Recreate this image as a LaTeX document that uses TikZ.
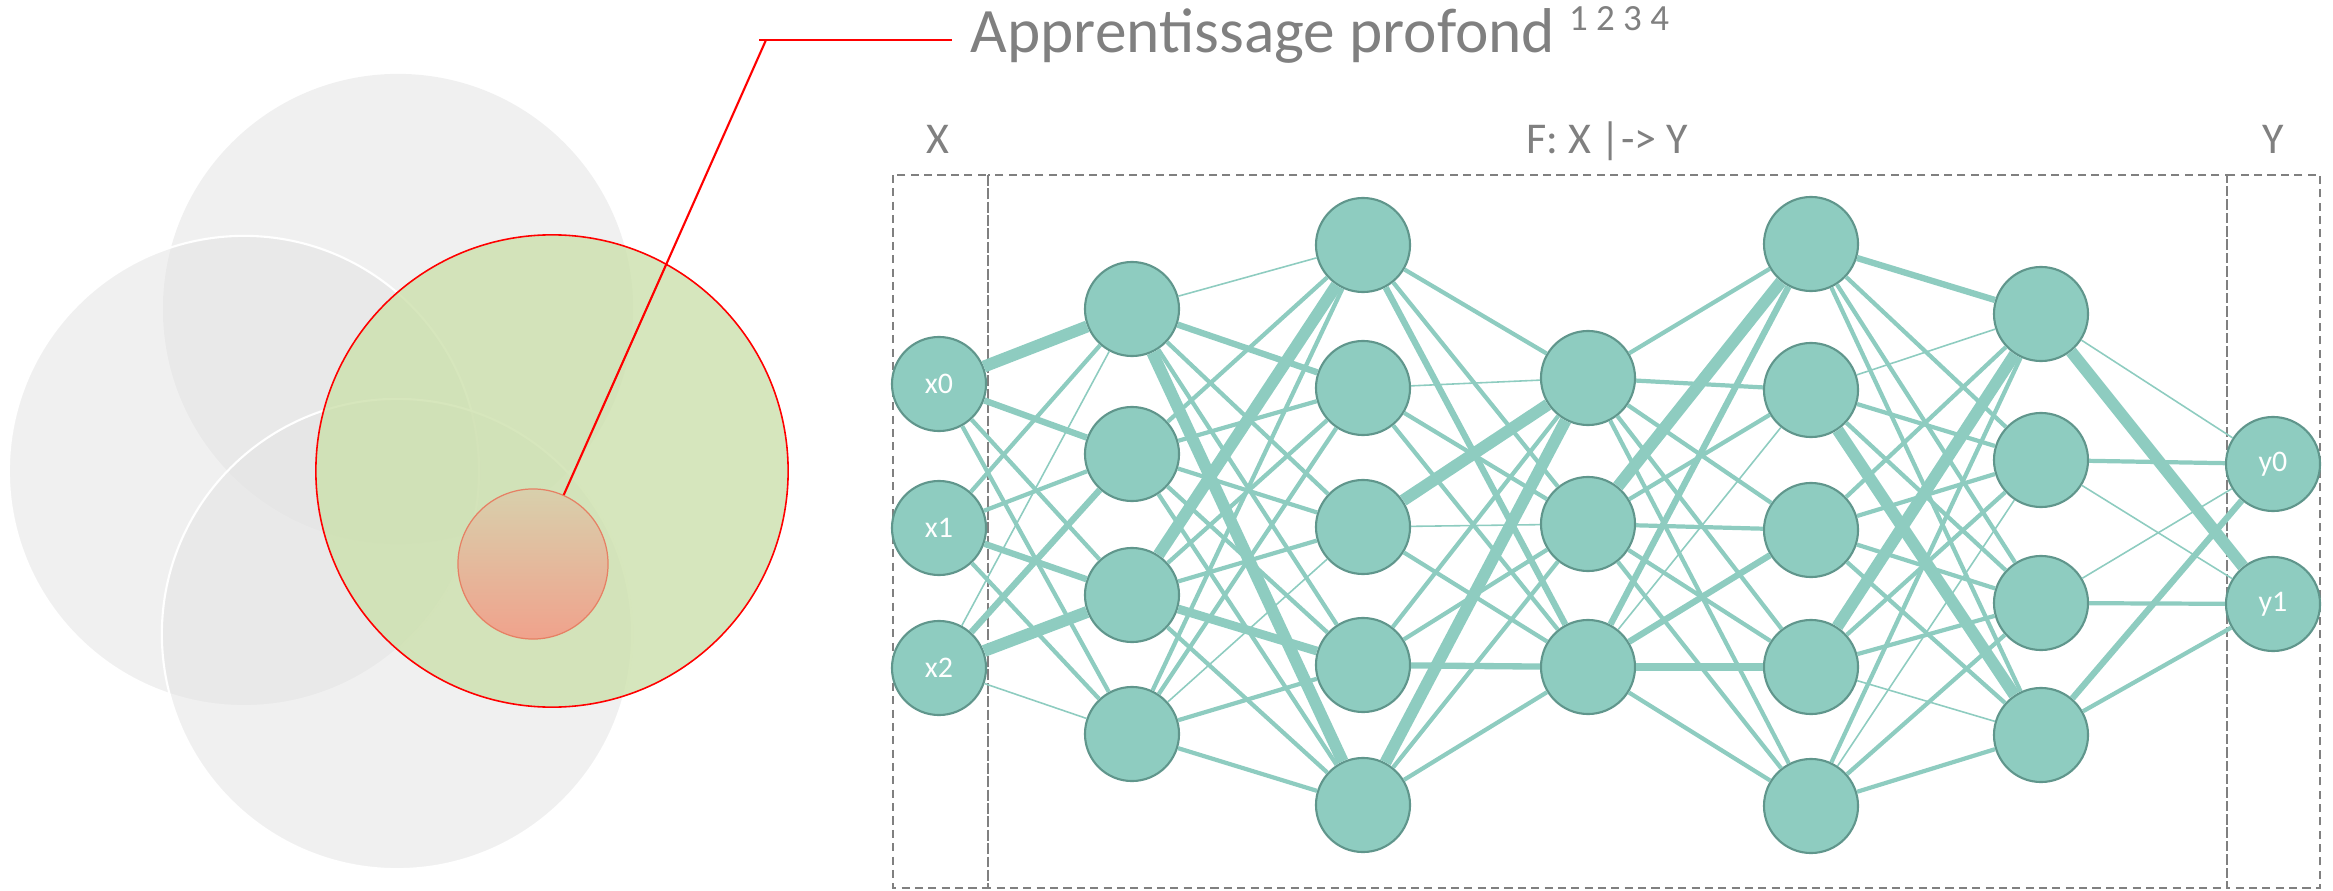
\documentclass[tikz,border=0pt]{standalone}
\usepackage{fontspec}
\setmainfont{Carlito}
\definecolor{nnfill}{RGB}{142,204,192}
\definecolor{nnedge}{RGB}{96,150,140}
\definecolor{textgray}{RGB}{128,128,128}
\definecolor{softgray}{RGB}{226,226,226}
\definecolor{leafgreen}{RGB}{204,224,172}
\definecolor{salmonedge}{RGB}{230,128,100}
\begin{document}
\begin{tikzpicture}[x=0.01cm, y=-0.01cm]
            \tikzstyle{every node}+=[inner sep=0pt]
            \tikzstyle{neuron}=[circle, minimum size=0.94cm, fill=nnfill, draw=nnedge, line width=0.6pt, text=white, font=\fontsize{8.5}{10}\selectfont]
            \tikzstyle{lbl}=[anchor=base, text=textgray, font=\fontsize{12.5}{15}\selectfont]
            \tikzstyle{dashbox}=[textgray, line width=0.5pt, dash pattern=on 2.3pt off 1.5pt]
            \tikzstyle{wthin}=[nnfill, line width=0.45pt]
            \tikzstyle{wnorm}=[nnfill, line width=1.2pt]
            \tikzstyle{wmid}=[nnfill, line width=1.8pt]
            \tikzstyle{wthick}=[nnfill, line width=2.5pt]
            \tikzstyle{wheavy}=[nnfill, line width=3.4pt]
                \useasboundingbox (0,0) rectangle (2333,891);
                % left: the circles
                \draw [fill=softgray, fill opacity=0.5, draw=none] (398,309) circle (2.35cm);
                \draw [fill=softgray, fill opacity=0.5, draw=white, line width=0.6pt] (244,471) circle (2.35cm);
                \draw [fill=softgray, fill opacity=0.5, draw=white, line width=0.6pt] (397,634) circle (2.35cm);
                \draw [fill=leafgreen, fill opacity=0.8, draw=red, line width=0.45pt] (552,471) circle (2.36cm);
                \node [circle, minimum size=1.5cm, draw=salmonedge, line width=0.35pt, top color={rgb,255:red,216;green,208;blue,172}, middle color={rgb,255:red,236;green,176;blue,156}, bottom color={rgb,255:red,240;green,162;blue,140}] (dl) at (533,564) {};
                \coordinate (elbow) at (766,40);
                \coordinate (hookstart) at (759,40);
                \coordinate (lineend) at (952,40);
                \draw [red, line width=0.6pt] (dl) -- (elbow);
                \draw [red, line width=0.6pt] (hookstart) -- (lineend);
                \node [anchor=base west, text=textgray, font=\fontsize{18}{22}\selectfont] (title) at (970,53) {Apprentissage profond\hspace{4pt}\raisebox{6.5pt}{\fontsize{10.5}{13}\selectfont 1 2 3 4}};
                % right: the network
                \draw [dashbox] (893,175) rectangle (988,888);
                \draw [dashbox] (988,175) rectangle (2227,888);
                \draw [dashbox] (2227,175) rectangle (2320,888);
                \node [lbl] (xlabel) at (938,153) {X};
                \node [lbl] (flabel) at (1607,153) {F: X |-> Y};
                \node [lbl] (ylabel) at (2273,153) {Y};
                \node [neuron] (x0) at (939,384) {x0};
                \node [neuron] (x1) at (939,528) {x1};
                \node [neuron] (x2) at (939,668) {x2};
                \node [neuron] (h1a) at (1132,309) {};
                \node [neuron] (h1b) at (1132,454) {};
                \node [neuron] (h1c) at (1132,595) {};
                \node [neuron] (h1d) at (1132,734) {};
                \node [neuron] (h2a) at (1363,245) {};
                \node [neuron] (h2b) at (1363,388) {};
                \node [neuron] (h2c) at (1363,527) {};
                \node [neuron] (h2d) at (1363,665) {};
                \node [neuron] (h2e) at (1363,805) {};
                \node [neuron] (h3a) at (1588,378) {};
                \node [neuron] (h3b) at (1588,524) {};
                \node [neuron] (h3c) at (1588,667) {};
                \node [neuron] (h4a) at (1811,244) {};
                \node [neuron] (h4b) at (1811,390) {};
                \node [neuron] (h4c) at (1811,530) {};
                \node [neuron] (h4d) at (1811,667) {};
                \node [neuron] (h4e) at (1811,806) {};
                \node [neuron] (h5a) at (2041,314) {};
                \node [neuron] (h5b) at (2041,460) {};
                \node [neuron] (h5c) at (2041,603) {};
                \node [neuron] (h5d) at (2041,735) {};
                \node [neuron] (y0) at (2273,464) {y0};
                \node [neuron] (y1) at (2273,604) {y1};
                % x -> h1
                \draw [wheavy] (x0) -- (h1a);
                \draw [wmid] (x0) -- (h1b);
                \draw [wnorm] (x0) -- (h1c);
                \draw [wnorm] (x0) -- (h1d);
                \draw [wnorm] (x1) -- (h1a);
                \draw [wnorm] (x1) -- (h1b);
                \draw [wmid] (x1) -- (h1c);
                \draw [wnorm] (x1) -- (h1d);
                \draw [wthin] (x2) -- (h1a);
                \draw [wmid] (x2) -- (h1b);
                \draw [wheavy] (x2) -- (h1c);
                \draw [wthin] (x2) -- (h1d);
                % h1 -> h2
                \draw [wthin] (h1a) -- (h2a);
                \draw [wmid] (h1a) -- (h2b);
                \draw [wnorm] (h1a) -- (h2c);
                \draw [wnorm] (h1a) -- (h2d);
                \draw [wheavy] (h1a) -- (h2e);
                \draw [wnorm] (h1b) -- (h2a);
                \draw [wnorm] (h1b) -- (h2b);
                \draw [wnorm] (h1b) -- (h2c);
                \draw [wnorm] (h1b) -- (h2d);
                \draw [wnorm] (h1b) -- (h2e);
                \draw [wheavy] (h1c) -- (h2a);
                \draw [wnorm] (h1c) -- (h2b);
                \draw [wnorm] (h1c) -- (h2c);
                \draw [wthick] (h1c) -- (h2d);
                \draw [wnorm] (h1c) -- (h2e);
                \draw [wnorm] (h1d) -- (h2a);
                \draw [wnorm] (h1d) -- (h2b);
                \draw [wthin] (h1d) -- (h2c);
                \draw [wnorm] (h1d) -- (h2d);
                \draw [wnorm] (h1d) -- (h2e);
                % h2 -> h3
                \draw [wnorm] (h2a) -- (h3a);
                \draw [wnorm] (h2a) -- (h3b);
                \draw [wmid] (h2a) -- (h3c);
                \draw [wthin] (h2b) -- (h3a);
                \draw [wnorm] (h2b) -- (h3b);
                \draw [wnorm] (h2b) -- (h3c);
                \draw [wheavy] (h2c) -- (h3a);
                \draw [wthin] (h2c) -- (h3b);
                \draw [wnorm] (h2c) -- (h3c);
                \draw [wnorm] (h2d) -- (h3a);
                \draw [wnorm] (h2d) -- (h3b);
                \draw [wmid] (h2d) -- (h3c);
                \draw [wheavy] (h2e) -- (h3a);
                \draw [wnorm] (h2e) -- (h3b);
                \draw [wnorm] (h2e) -- (h3c);
                % h3 -> h4
                \draw [wnorm] (h3a) -- (h4a);
                \draw [wnorm] (h3a) -- (h4b);
                \draw [wnorm] (h3a) -- (h4c);
                \draw [wnorm] (h3a) -- (h4d);
                \draw [wnorm] (h3a) -- (h4e);
                \draw [wheavy] (h3b) -- (h4a);
                \draw [wnorm] (h3b) -- (h4b);
                \draw [wnorm] (h3b) -- (h4c);
                \draw [wnorm] (h3b) -- (h4d);
                \draw [wnorm] (h3b) -- (h4e);
                \draw [wmid] (h3c) -- (h4a);
                \draw [wthin] (h3c) -- (h4b);
                \draw [wmid] (h3c) -- (h4c);
                \draw [wthick] (h3c) -- (h4d);
                \draw [wnorm] (h3c) -- (h4e);
                % h4 -> h5
                \draw [wmid] (h4a) -- (h5a);
                \draw [wnorm] (h4a) -- (h5b);
                \draw [wnorm] (h4a) -- (h5c);
                \draw [wnorm] (h4a) -- (h5d);
                \draw [wthin] (h4b) -- (h5a);
                \draw [wnorm] (h4b) -- (h5b);
                \draw [wnorm] (h4b) -- (h5c);
                \draw [wheavy] (h4b) -- (h5d);
                \draw [wnorm] (h4c) -- (h5a);
                \draw [wnorm] (h4c) -- (h5b);
                \draw [wnorm] (h4c) -- (h5c);
                \draw [wnorm] (h4c) -- (h5d);
                \draw [wheavy] (h4d) -- (h5a);
                \draw [wnorm] (h4d) -- (h5b);
                \draw [wnorm] (h4d) -- (h5c);
                \draw [wthin] (h4d) -- (h5d);
                \draw [wnorm] (h4e) -- (h5a);
                \draw [wthin] (h4e) -- (h5b);
                \draw [wnorm] (h4e) -- (h5c);
                \draw [wnorm] (h4e) -- (h5d);
                % h5 -> y
                \draw [wthin] (h5a) -- (y0);
                \draw [wheavy] (h5a) -- (y1);
                \draw [wnorm] (h5b) -- (y0);
                \draw [wthin] (h5b) -- (y1);
                \draw [wthin] (h5c) -- (y0);
                \draw [wnorm] (h5c) -- (y1);
                \draw [wmid] (h5d) -- (y0);
                \draw [wnorm] (h5d) -- (y1);
            \end{tikzpicture}
\end{document}
